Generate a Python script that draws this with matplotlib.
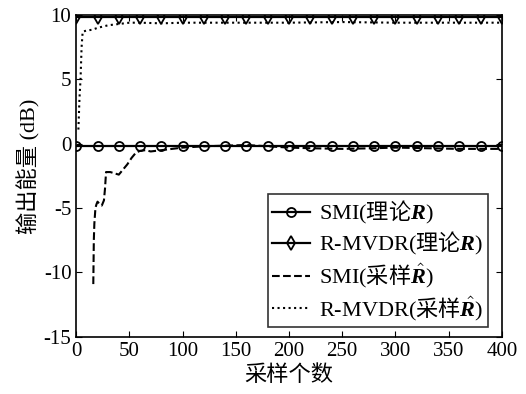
import numpy as np
import matplotlib.pyplot as plt

plt.rcParams['font.family'] = ['Liberation Serif', 'Noto Sans CJK SC']
plt.rcParams['axes.unicode_minus'] = False
plt.rcParams['mathtext.fontset'] = 'custom'
plt.rcParams['mathtext.rm'] = 'Noto Sans CJK SC'
plt.rcParams['mathtext.it'] = 'Liberation Serif:italic'
plt.rcParams['mathtext.bf'] = 'Liberation Serif:bold'
plt.rcParams['mathtext.bfit'] = 'Liberation Serif:italic:bold'

# theoretical curves, markers every 20 samples
n_theory = np.arange(0, 401, 20)
smi_theory = [-0.2] * len(n_theory)
rmvdr_theory = [9.85] * len(n_theory)

# SMI with sampled covariance
n_smi = [16, 16.5, 17, 18, 19, 20, 22, 24, 26, 27, 28, 32, 36, 40, 44, 48, 52, 56, 60,
         65, 70, 75, 80, 90, 100, 120, 140, 160, 180, 200, 220, 250, 280, 300, 330, 360, 400]
smi_sample = [-10.9, -7.5, -6.2, -5.0, -4.7, -4.5, -4.7, -4.8, -4.4, -3.5, -2.2, -2.2, -2.3,
              -2.4, -2.0, -1.6, -1.1, -0.7, -0.55, -0.5, -0.6, -0.55, -0.5, -0.4, -0.3,
              -0.2, -0.15, -0.1, -0.2, -0.3, -0.35, -0.4, -0.35, -0.3, -0.35, -0.4, -0.4]

# R-MVDR with sampled covariance
n_rm = [2, 3, 4, 5, 6, 8, 10, 15, 20, 25, 30, 40, 50, 60, 80, 100, 150, 200, 250, 300, 350, 400]
rm_sample = [1.1, 3.5, 5.0, 7.5, 8.7, 8.75, 8.8, 8.85, 9.0, 9.1, 9.2, 9.3, 9.4, 9.4, 9.35,
             9.4, 9.4, 9.4, 9.45, 9.4, 9.4, 9.4]

labels = ['SMI($\\mathrm{理论}\\boldsymbol{R}$)',
          'R-MVDR($\\mathrm{理论}\\boldsymbol{R}$)',
          'SMI($\\mathrm{采样}\\hat{\\boldsymbol{R}}$)',
          'R-MVDR($\\mathrm{采样}\\hat{\\boldsymbol{R}}$)']

fig = plt.figure(figsize=(5.26, 3.94), dpi=100)
ax = fig.add_axes([0.145, 0.145, 0.809, 0.817])

ax.plot(n_theory, smi_theory, '-', color='black', lw=1.6, marker='o', ms=6.5,
        mfc='none', mec='black', mew=1.3, label=labels[0])
ax.plot(n_theory, rmvdr_theory, '-', color='black', lw=1.6, marker='d', ms=7,
        mfc='none', mec='black', mew=1.3, label=labels[1])
ax.plot(n_smi, smi_sample, '--', color='black', lw=1.5, label=labels[2])
ax.plot(n_rm, rm_sample, ':', color='black', lw=1.5, label=labels[3])

ax.set_xlim(0, 400)
ax.set_ylim(-15, 10)
ax.set_xticks(np.arange(0, 401, 50))
ax.set_yticks(np.arange(-15, 11, 5))
ax.tick_params(direction='in', top=True, right=True, labelsize=15, length=4)
for s in ax.spines.values():
    s.set_linewidth(1.2)

ax.set_xlabel('采样个数', fontsize=16, labelpad=3)
ax.set_ylabel('输出能量 (dB)', fontsize=16)
ax.yaxis.set_label_coords(-0.085, 0.53)

leg = ax.legend(loc='lower right', fontsize=16, frameon=True, fancybox=False,
                edgecolor='black', handlelength=1.7, borderpad=0.2, labelspacing=0.2,
                handletextpad=0.4, borderaxespad=0.0, bbox_to_anchor=(0.967, 0.03))
leg.get_frame().set_linewidth(1.2)

fig.savefig('out.png', dpi=100)
